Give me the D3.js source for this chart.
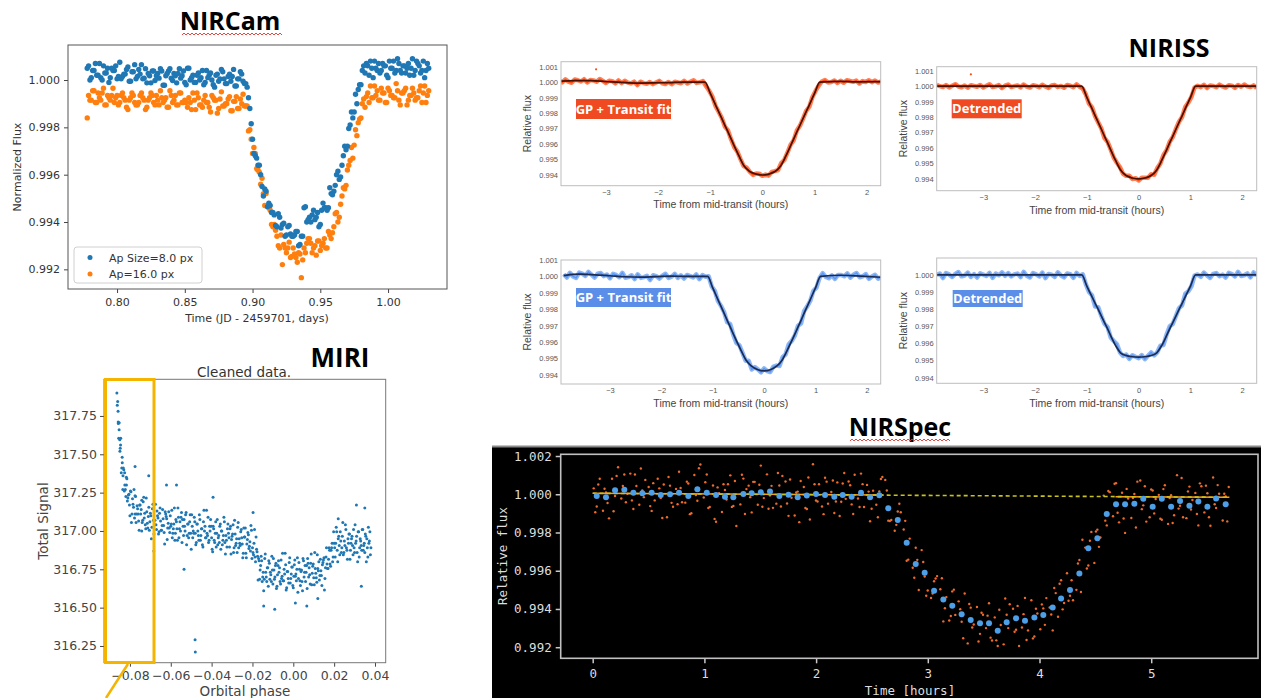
<!DOCTYPE html>
<html>
<head>
<meta charset="utf-8">
<script src="https://cdn.jsdelivr.net/npm/d3@7"></script>
<style>
  body { margin: 0; background: #fff; }
  svg { display: block; }
</style>
</head>
<body>
<svg id="chart" width="1261" height="698"></svg>
<script>
// ---------- NIRCam ----------
const nircamTitle = "NIRCam";
const nircamLegend = ["Ap Size=8.0 px", "Ap=16.0 px"];
const nircamXTicks = [0.80, 0.85, 0.90, 0.95, 1.00];
const nircamYTicks = [0.992, 0.994, 0.996, 0.998, 1.000];
const nircamTime = [
  0.778,0.780,0.782,0.784,0.786,0.788,0.790,0.792,0.794,0.796,
  0.798,0.800,0.802,0.804,0.806,0.808,0.810,0.812,0.814,0.816,
  0.818,0.820,0.822,0.824,0.826,0.828,0.830,0.832,0.834,0.836,
  0.838,0.840,0.842,0.844,0.846,0.848,0.850,0.852,0.854,0.856,
  0.858,0.860,0.862,0.864,0.866,0.868,0.870,0.872,0.874,0.876,
  0.878,0.880,0.882,0.884,0.886,0.888,0.890,0.892,0.894,0.896,
  0.898,0.900,0.902,0.904,0.906,0.908,0.910,0.912,0.914,0.916,
  0.918,0.920,0.922,0.924,0.926,0.928,0.930,0.932,0.934,0.936,
  0.938,0.940,0.942,0.944,0.946,0.948,0.950,0.952,0.954,0.956,
  0.958,0.960,0.962,0.964,0.966,0.968,0.970,0.972,0.974,0.976,
  0.978,0.980,0.982,0.984,0.986,0.988,0.990,0.992,0.994,0.996,
  0.998,1.000,1.002,1.004,1.006,1.008,1.010,1.012,1.014,1.016,
  1.018,1.020,1.022,1.024,1.026,1.028,1.030];
const nircamAp8 = [
  1.00050,1.00000,1.00040,1.00070,1.00020,1.00010,1.00060,1.00030,0.99990,1.00050,
  1.00040,1.00005,1.00075,1.00015,1.00025,1.00055,0.99995,1.00035,1.00005,1.00045,
  1.00065,1.00008,0.99988,1.00018,1.00038,0.99998,1.00028,1.00048,0.99978,1.00018,
  1.00038,1.00008,1.00028,0.99988,1.00048,1.00018,0.99990,1.00050,1.00000,1.00020,
  0.99990,1.00030,1.00010,0.99980,1.00040,1.00020,1.00000,0.99970,1.00025,1.00005,
  1.00035,0.99985,1.00015,0.99995,1.00045,0.99975,1.00005,1.00025,0.99985,0.99970,
  0.99880,0.99750,0.99680,0.99640,0.99600,0.99510,0.99530,0.99480,0.99440,0.99430,
  0.99380,0.99420,0.99390,0.99340,0.99380,0.99350,0.99340,0.99360,0.99300,0.99340,
  0.99460,0.99400,0.99420,0.99430,0.99410,0.99440,0.99390,0.99480,0.99460,0.99460,
  0.99520,0.99530,0.99600,0.99580,0.99640,0.99720,0.99720,0.99810,0.99840,0.99940,
  0.99960,0.99980,1.00060,1.00070,1.00020,1.00050,1.00080,1.00040,1.00030,1.00070,
  1.00060,1.00010,1.00050,1.00080,1.00040,1.00070,1.00030,1.00060,1.00050,1.00020,
  1.00090,1.00040,1.00070,1.00030,1.00080,1.00040,1.00050];
const nircamAp16 = [
  0.99840,0.99915,0.99955,0.99905,0.99945,0.99915,0.99965,0.99895,0.99925,0.99935,
  0.99905,0.99935,0.99905,0.99945,0.99915,0.99875,0.99925,0.99935,0.99895,0.99905,
  0.99945,0.99915,0.99885,0.99925,0.99935,0.99895,0.99915,0.99955,0.99905,0.99925,
  0.99885,0.99935,0.99915,0.99895,0.99945,0.99905,0.99915,0.99885,0.99905,0.99945,
  0.99875,0.99925,0.99895,0.99915,0.99905,0.99885,0.99935,0.99915,0.99860,0.99920,
  0.99890,0.99900,0.99920,0.99870,0.99910,0.99930,0.99880,0.99900,0.99890,0.99890,
  0.99790,0.99690,0.99690,0.99620,0.99560,0.99520,0.99520,0.99460,0.99390,0.99390,
  0.99340,0.99290,0.99220,0.99290,0.99290,0.99250,0.99290,0.99250,0.99270,0.99165,
  0.99290,0.99310,0.99330,0.99270,0.99300,0.99320,0.99280,0.99310,0.99290,0.99360,
  0.99330,0.99380,0.99440,0.99420,0.99510,0.99540,0.99620,0.99660,0.99670,0.99790,
  0.99820,0.99840,0.99920,0.99930,0.99905,0.99925,0.99975,0.99955,0.99915,0.99945,
  0.99905,0.99965,0.99935,0.99925,0.99985,0.99915,0.99945,0.99955,0.99895,0.99935,
  0.99965,0.99915,0.99925,0.99975,0.99945,0.99905,0.99955];
// interleaved exposures
const nircamTimeB = [
  0.779,0.781,0.783,0.785,0.787,0.789,0.791,0.793,0.795,0.797,
  0.799,0.801,0.803,0.805,0.807,0.809,0.811,0.813,0.815,0.817,
  0.819,0.821,0.823,0.825,0.827,0.829,0.831,0.833,0.835,0.837,
  0.839,0.841,0.843,0.845,0.847,0.849,0.851,0.853,0.855,0.857,
  0.859,0.861,0.863,0.865,0.867,0.869,0.871,0.873,0.875,0.877,
  0.879,0.881,0.883,0.885,0.887,0.889,0.891,0.893,0.895,0.897,
  0.899,0.901,0.903,0.905,0.907,0.909,0.911,0.913,0.915,0.917,
  0.919,0.921,0.923,0.925,0.927,0.929,0.931,0.933,0.935,0.937,
  0.939,0.941,0.943,0.945,0.947,0.949,0.951,0.953,0.955,0.957,
  0.959,0.961,0.963,0.965,0.967,0.969,0.971,0.973,0.975,0.977,
  0.979,0.981,0.983,0.985,0.987,0.989,0.991,0.993,0.995,0.997,
  0.999,1.001,1.003,1.005,1.007,1.009,1.011,1.013,1.015,1.017,
  1.019,1.021,1.023,1.025,1.027,1.029];
const nircamAp8B = [
  1.00060,1.00010,1.00040,1.00020,1.00070,1.00000,1.00030,1.00050,1.00010,1.00040,
  1.00060,1.00015,1.00005,1.00025,1.00045,0.99995,1.00035,1.00065,1.00015,1.00025,
  1.00005,1.00048,1.00028,0.99988,1.00038,1.00018,1.00008,1.00038,0.99978,1.00028,
  1.00048,0.99998,1.00018,1.00028,1.00008,1.00038,0.99980,1.00050,1.00010,0.99990,
  1.00020,1.00000,1.00040,0.99990,1.00010,1.00030,0.99980,1.00020,0.99995,1.00045,
  1.00005,0.99985,1.00025,1.00015,0.99975,1.00005,1.00035,0.99995,0.99985,0.99925,
  0.99815,0.99690,0.99670,0.99640,0.99550,0.99540,0.99465,0.99470,0.99440,0.99385,
  0.99435,0.99375,0.99395,0.99345,0.99385,0.99340,0.99345,0.99360,0.99305,0.99340,
  0.99465,0.99410,0.99400,0.99450,0.99420,0.99380,0.99450,0.99460,0.99450,0.99545,
  0.99515,0.99555,0.99615,0.99590,0.99680,0.99705,0.99795,0.99865,0.99865,0.99900,
  0.99980,1.00040,1.00030,1.00060,1.00080,1.00010,1.00050,1.00070,1.00040,1.00060,
  1.00020,1.00080,1.00050,1.00030,1.00090,1.00040,1.00060,1.00030,1.00070,1.00050,
  1.00020,1.00080,1.00060,1.00040,1.00010,1.00070];
const nircamAp16B = [
  0.99935,0.99915,0.99955,0.99905,0.99925,0.99945,0.99895,0.99935,0.99915,0.99965,
  0.99925,0.99895,0.99935,0.99925,0.99885,0.99915,0.99945,0.99905,0.99895,0.99935,
  0.99925,0.99875,0.99915,0.99945,0.99905,0.99935,0.99895,0.99925,0.99915,0.99885,
  0.99955,0.99905,0.99935,0.99895,0.99945,0.99905,0.99905,0.99925,0.99875,0.99915,
  0.99945,0.99895,0.99885,0.99935,0.99905,0.99865,0.99925,0.99915,0.99880,0.99950,
  0.99890,0.99900,0.99930,0.99870,0.99910,0.99880,0.99920,0.99940,0.99890,0.99785,
  0.99750,0.99715,0.99625,0.99610,0.99585,0.99470,0.99470,0.99450,0.99380,0.99365,
  0.99300,0.99345,0.99305,0.99270,0.99315,0.99255,0.99265,0.99230,0.99265,0.99240,
  0.99270,0.99330,0.99310,0.99290,0.99260,0.99320,0.99300,0.99330,0.99290,0.99345,
  0.99355,0.99435,0.99400,0.99475,0.99545,0.99555,0.99640,0.99715,0.99725,0.99765,
  0.99835,0.99900,0.99885,0.99945,0.99975,0.99925,0.99935,0.99915,0.99965,0.99945,
  0.99905,0.99955,0.99935,0.99925,0.99955,0.99895,0.99945,0.99965,0.99915,0.99935,
  0.99945,0.99925,0.99955,0.99905,0.99975,0.99935];

// ---------- MIRI ----------
const miriTitle = "Cleaned data.";
const miriXTicks = [-0.08, -0.06, -0.04, -0.02, 0.00, 0.02, 0.04];
const miriYTicks = [316.25, 316.50, 316.75, 317.00, 317.25, 317.50, 317.75];
const miriPhase = [
  -.0860,-.0855,-.0850,-.0845,-.0840,-.0835,-.0830,-.0825,-.0820,-.0815,
  -.0810,-.0805,-.0800,-.0795,-.0790,-.0785,-.0780,-.0775,-.0770,-.0765,
  -.0760,-.0755,-.0750,-.0745,-.0740,-.0735,-.0730,-.0725,-.0720,-.0715,
  -.0710,-.0705,-.0700,-.0695,-.0690,-.0685,-.0680,-.0675,-.0670,-.0665,
  -.0660,-.0655,-.0650,-.0645,-.0640,-.0635,-.0630,-.0625,-.0620,-.0615,
  -.0610,-.0605,-.0600,-.0595,-.0590,-.0585,-.0580,-.0575,-.0570,-.0565,
  -.0560,-.0555,-.0550,-.0545,-.0540,-.0535,-.0530,-.0525,-.0520,-.0515,
  -.0510,-.0505,-.0500,-.0495,-.0490,-.0485,-.0480,-.0475,-.0470,-.0465,
  -.0460,-.0455,-.0450,-.0445,-.0440,-.0435,-.0430,-.0425,-.0420,-.0415,
  -.0410,-.0405,-.0400,-.0395,-.0390,-.0385,-.0380,-.0375,-.0370,-.0365,
  -.0360,-.0355,-.0350,-.0345,-.0340,-.0335,-.0330,-.0325,-.0320,-.0315,
  -.0310,-.0305,-.0300,-.0295,-.0290,-.0285,-.0280,-.0275,-.0270,-.0265,
  -.0260,-.0255,-.0250,-.0245,-.0240,-.0235,-.0230,-.0225,-.0220,-.0215,
  -.0210,-.0205,-.0200,-.0195,-.0190,-.0185,-.0180,-.0175,-.0170,-.0165,
  -.0160,-.0155,-.0150,-.0145,-.0140,-.0135,-.0130,-.0125,-.0120,-.0115,
  -.0110,-.0105,-.0100,-.0095,-.0090,-.0085,-.0080,-.0075,-.0070,-.0065,
  -.0060,-.0055,-.0050,-.0045,-.0040,-.0035,-.0030,-.0025,-.0020,-.0015,
  -.0010,-.0005,.0000,.0005,.0010,.0015,.0020,.0025,.0030,.0035,
  .0040,.0045,.0050,.0055,.0060,.0065,.0070,.0075,.0080,.0085,
  .0090,.0095,.0100,.0105,.0110,.0115,.0120,.0125,.0130,.0135,
  .0140,.0145,.0150,.0155,.0160,.0165,.0170,.0175,.0180,.0185,
  .0190,.0195,.0200,.0205,.0210,.0215,.0220,.0225,.0230,.0235,
  .0240,.0245,.0250,.0255,.0260,.0265,.0270,.0275,.0280,.0285,
  .0290,.0295,.0300,.0305,.0310,.0315,.0320,.0325,.0330,.0335,
  .0340,.0345,.0350,.0355,.0360,.0365,.0370,.0375,.0380];
const miriSignal = [
  317.845,317.605,317.595,317.605,317.41,317.27,317.40,317.30,317.225,317.34,
  317.215,317.24,317.10,317.255,317.11,317.175,317.27,317.11,317.055,317.165,
  317.11,317.005,317.17,317.14,317.055,317.19,317.085,317.04,317.215,317.05,
  317.095,317.005,317.115,316.95,317.145,317.07,317.04,317.175,317.01,317.10,
  316.98,317.115,317.065,317.005,317.14,317.035,316.915,317.11,317.08,317.02,
  317.125,316.99,317.03,317.135,316.985,317.045,316.94,317.075,317.015,317.15,
  316.955,317.06,317.09,316.925,317.03,317.075,317.00,317.12,316.97,317.045,
  316.985,317.105,316.88,317.03,317.00,317.09,316.985,316.925,317.045,316.97,
  317.105,316.94,317.015,316.91,317.06,317.00,316.955,317.135,316.97,316.925,
  317.03,317.075,316.955,316.865,317.015,316.925,317.06,316.985,316.91,316.97,
  317.03,316.88,317.00,316.94,317.09,316.925,316.97,316.895,317.045,316.955,
  317.015,316.85,316.965,317.04,316.89,316.98,316.92,316.86,317.055,316.95,
  316.905,317.01,316.915,316.855,316.96,317.02,316.825,316.945,316.975,316.90,
  316.87,317.005,316.89,316.845,317.01,316.80,316.88,316.835,316.82,316.685,
  316.775,316.805,316.70,316.61,316.82,316.73,316.67,316.76,316.805,316.685,
  316.715,316.835,316.655,316.745,316.70,316.79,316.64,316.775,316.73,316.67,
  316.81,316.705,316.675,316.75,316.855,316.615,316.735,316.69,316.795,316.66,
  316.72,316.765,316.63,316.78,316.705,316.675,316.825,316.69,316.75,316.645,
  316.745,316.61,316.805,316.73,316.67,316.775,316.82,316.70,316.715,316.79,
  316.65,316.77,316.695,316.86,316.725,316.665,316.755,316.80,316.71,316.74,
  316.645,316.795,316.825,316.69,316.83,316.785,316.755,316.89,316.785,316.875,
  316.92,316.83,316.92,316.83,317.025,316.875,316.95,316.905,316.995,316.86,
  316.965,316.845,316.935,317.04,316.89,316.815,316.92,316.98,316.875,316.95,
  316.905,317.01,316.86,316.92,316.965,316.80,316.995,316.89,316.935,316.875,
  317.01,316.905,316.86,316.965,316.95,316.83,316.92,316.995,316.89];
// second half-cadence set
const miriPhaseB = [
  -.08575,-.08525,-.08475,-.08425,-.08375,-.08325,-.08275,-.08225,-.08175,-.08125,
  -.08075,-.08025,-.07975,-.07925,-.07875,-.07825,-.07775,-.07725,-.07675,-.07625,
  -.07575,-.07525,-.07475,-.07425,-.07375,-.07325,-.07275,-.07225,-.07175,-.07125,
  -.07075,-.07025,-.06975,-.06925,-.06875,-.06825,-.06775,-.06725,-.06675,-.06625,
  -.06575,-.06525,-.06475,-.06425,-.06375,-.06325,-.06275,-.06225,-.06175,-.06125,
  -.06075,-.06025,-.05975,-.05925,-.05875,-.05825,-.05775,-.05725,-.05675,-.05625,
  -.05575,-.05525,-.05475,-.05425,-.05375,-.05325,-.05275,-.05225,-.05175,-.05125,
  -.05075,-.05025,-.04975,-.04925,-.04875,-.04825,-.04775,-.04725,-.04675,-.04625,
  -.04575,-.04525,-.04475,-.04425,-.04375,-.04325,-.04275,-.04225,-.04175,-.04125,
  -.04075,-.04025,-.03975,-.03925,-.03875,-.03825,-.03775,-.03725,-.03675,-.03625,
  -.03575,-.03525,-.03475,-.03425,-.03375,-.03325,-.03275,-.03225,-.03175,-.03125,
  -.03075,-.03025,-.02975,-.02925,-.02875,-.02825,-.02775,-.02725,-.02675,-.02625,
  -.02575,-.02525,-.02475,-.02425,-.02375,-.02325,-.02275,-.02225,-.02175,-.02125,
  -.02075,-.02025,-.01975,-.01925,-.01875,-.01825,-.01775,-.01725,-.01675,-.01625,
  -.01575,-.01525,-.01475,-.01425,-.01375,-.01325,-.01275,-.01225,-.01175,-.01125,
  -.01075,-.01025,-.00975,-.00925,-.00875,-.00825,-.00775,-.00725,-.00675,-.00625,
  -.00575,-.00525,-.00475,-.00425,-.00375,-.00325,-.00275,-.00225,-.00175,-.00125,
  -.00075,-.00025,.00025,.00075,.00125,.00175,.00225,.00275,.00325,.00375,
  .00425,.00475,.00525,.00575,.00625,.00675,.00725,.00775,.00825,.00875,
  .00925,.00975,.01025,.01075,.01125,.01175,.01225,.01275,.01325,.01375,
  .01425,.01475,.01525,.01575,.01625,.01675,.01725,.01775,.01825,.01875,
  .01925,.01975,.02025,.02075,.02125,.02175,.02225,.02275,.02325,.02375,
  .02425,.02475,.02525,.02575,.02625,.02675,.02725,.02775,.02825,.02875,
  .02925,.02975,.03025,.03075,.03125,.03175,.03225,.03275,.03325,.03375,
  .03425,.03475,.03525,.03575,.03625,.03675,.03725,.03775];
const miriSignalB = [
  317.71,317.705,317.54,317.38,317.445,317.41,317.26,317.27,317.35,317.195,
  317.235,317.17,317.26,317.055,317.21,317.155,317.085,317.225,317.11,317.145,
  317.065,317.17,317.11,317.00,317.07,317.22,317.115,317.015,317.125,317.02,
  317.155,317.06,317.10,317.025,317.175,316.98,317.07,317.04,317.13,317.085,
  316.995,317.15,317.005,317.035,317.08,316.99,317.125,317.095,316.945,317.05,
  317.02,317.10,317.045,316.955,317.015,317.15,316.985,317.06,316.94,317.09,
  317.015,317.00,317.12,317.075,316.97,317.03,317.105,316.91,317.045,316.955,
  317.06,316.985,317.105,316.955,316.985,317.06,316.91,317.045,317.00,316.94,
  317.075,316.97,317.015,316.895,317.135,317.03,316.955,316.985,317.09,316.94,
  317.00,317.03,316.88,317.03,316.94,316.985,316.895,317.075,316.955,316.925,
  317.045,317.00,316.91,316.97,317.06,316.85,316.94,317.015,316.985,316.895,
  317.03,316.945,316.98,316.86,317.07,316.905,316.95,317.025,316.89,316.92,
  316.995,316.955,316.825,317.02,316.96,316.855,316.915,316.99,316.885,316.93,
  317.035,316.82,316.86,316.92,316.83,316.96,316.865,316.68,316.805,316.745,
  316.835,316.67,316.73,316.685,316.85,316.70,316.76,316.64,316.79,316.73,
  316.67,316.745,316.82,316.685,316.775,316.625,316.715,316.805,316.76,316.655,
  316.69,316.855,316.675,316.72,316.78,316.63,316.735,316.66,316.825,316.69,
  316.765,316.645,316.705,316.81,316.72,316.75,316.60,316.795,316.675,316.735,
  316.67,316.82,316.70,316.775,316.73,316.625,316.79,316.76,316.655,316.85,
  316.725,316.785,316.65,316.755,316.695,316.845,316.74,316.68,316.815,316.71,
  316.78,316.81,316.615,316.76,316.89,316.755,316.815,316.875,316.77,316.89,
  316.80,316.995,316.89,316.92,316.995,316.80,316.965,316.845,316.935,316.89,
  317.055,316.86,316.905,317.01,316.875,316.95,316.98,316.815,316.92,316.965,
  316.845,316.89,317.04,316.935,316.86,316.995,316.83,316.95,316.905,317.01,
  316.875,316.92,316.98,316.80,316.89,317.025,316.935,316.845];
// early ramp and scattered outliers
const miriExtra = [
  [-0.0864,317.90],[-0.0862,317.82],[-0.0858,317.78],[-0.0857,317.70],[-0.0853,317.66],
  [-0.0849,317.52],[-0.0846,317.56],[-0.0838,317.48],[-0.0834,317.36],[-0.0826,317.38],
  [-0.0817,317.30],[-0.0775,317.42],[-0.0775,317.23],[-0.0742,317.20],[-0.0708,317.36],
  [-0.0683,316.87],[-0.0621,317.30],[-0.0572,317.30],[-0.0535,316.75],[-0.0481,316.29],
  [-0.0480,316.21],[-0.0393,317.22],[-0.0197,317.12],[-0.0145,316.51],[-0.0091,316.49],
  [0.0010,316.53],[0.0066,316.51],[0.0120,316.56],[0.0220,317.08],[0.0309,317.17],
  [0.0333,316.64],[0.0350,317.15]];

// ---------- NIRISS ----------
const nirissXTicks = [-3, -2, -1, 0, 1, 2];
const nirissYTicks = [0.994, 0.995, 0.996, 0.997, 0.998, 0.999, 1.000, 1.001];
const nirissYTicksBR = [0.994, 0.995, 0.996, 0.997, 0.998, 0.999, 1.000];
const nirissTime = [
  -3.90,-3.84,-3.78,-3.72,-3.66,-3.60,-3.54,-3.48,-3.42,-3.36,
  -3.30,-3.24,-3.18,-3.12,-3.06,-3.00,-2.94,-2.88,-2.82,-2.76,
  -2.70,-2.64,-2.58,-2.52,-2.46,-2.40,-2.34,-2.28,-2.22,-2.16,
  -2.10,-2.04,-1.98,-1.92,-1.86,-1.80,-1.74,-1.68,-1.62,-1.56,
  -1.50,-1.44,-1.38,-1.32,-1.26,-1.20,-1.14,-1.08,-1.02,-0.96,
  -0.90,-0.84,-0.78,-0.72,-0.66,-0.60,-0.54,-0.48,-0.42,-0.36,
  -0.30,-0.24,-0.18,-0.12,-0.06,0.00,0.06,0.12,0.18,0.24,
  0.30,0.36,0.42,0.48,0.54,0.60,0.66,0.72,0.78,0.84,
  0.90,0.96,1.02,1.08,1.14,1.20,1.26,1.32,1.38,1.44,
  1.50,1.56,1.62,1.68,1.74,1.80,1.86,1.92,1.98,2.04,
  2.10,2.16,2.22,2.28];
const nirissRedGP = [
  1.00011,0.99998,1.00018,1.00003,0.99996,1.00017,1.00012,1.00004,1.00019,0.99998,
  1.00014,1.00011,1.00003,1.00020,1.00008,0.99994,1.00009,1.00006,0.99992,1.00011,
  0.99994,1.00009,0.99997,0.99992,1.00003,0.99981,1.00003,0.99994,0.99989,1.00001,
  0.99987,0.99998,1.00008,0.99993,0.99988,1.00001,0.99987,1.00003,0.99998,0.99993,
  1.00008,0.99991,1.00002,1.00012,0.99995,0.99999,1.00007,0.99973,0.99944,0.99907,
  0.99847,0.99809,0.99770,0.99713,0.99688,0.99630,0.99580,0.99551,0.99503,0.99458,
  0.99447,0.99420,0.99401,0.99410,0.99409,0.99395,0.99403,0.99396,0.99420,0.99425,
  0.99432,0.99477,0.99497,0.99544,0.99595,0.99624,0.99687,0.99718,0.99765,0.99814,
  0.99841,0.99904,0.99943,0.99977,1.00004,1.00013,0.99997,1.00000,1.00011,0.99995,
  1.00009,0.99996,1.00012,1.00007,1.00002,1.00010,0.99991,1.00007,1.00001,1.00012,
  1.00000,1.00010,0.99997,1.00005];
const nirissRedDetr = [
  1.00009,1.00000,0.99995,1.00007,0.99992,1.00003,1.00013,0.99998,0.99993,1.00004,
  0.99990,1.00006,1.00001,0.99996,1.00008,0.99991,1.00002,1.00012,0.99995,0.99999,
  1.00007,0.99988,1.00003,1.00010,0.99994,1.00000,1.00005,0.99992,1.00011,0.99997,
  0.99991,1.00006,1.00002,0.99993,1.00009,0.99998,0.99989,1.00004,1.00007,0.99995,
  1.00001,0.99990,1.00008,1.00003,0.99994,1.00012,0.99996,0.99984,0.99947,0.99888,
  0.99863,0.99806,0.99765,0.99726,0.99665,0.99640,0.99591,0.99537,0.99505,0.99476,
  0.99433,0.99420,0.99421,0.99399,0.99405,0.99390,0.99408,0.99407,0.99408,0.99430,
  0.99427,0.99470,0.99500,0.99555,0.99586,0.99640,0.99671,0.99723,0.99770,0.99801,
  0.99865,0.99894,0.99931,0.99992,1.00002,0.99994,1.00009,0.99988,1.00004,1.00001,
  0.99993,1.00010,0.99998,0.99991,1.00006,1.00003,0.99989,1.00008,0.99996,1.00011,
  0.99999,0.99994,1.00005,0.99987];
const nirissBlueGP = [
  1.00013,0.99993,1.00022,1.00000,0.99991,1.00023,1.00017,1.00003,1.00028,1.00011,
  0.99993,1.00016,1.00021,1.00002,1.00012,0.99989,1.00016,1.00009,0.99995,1.00022,
  0.99992,0.99996,1.00007,0.99984,1.00013,0.99991,0.99996,1.00004,0.99978,1.00007,
  1.00002,0.99987,1.00005,1.00016,0.99991,0.99999,1.00016,0.99991,1.00007,0.99987,
  1.00009,1.00002,0.99994,1.00012,0.99983,1.00008,0.99998,1.00001,0.99939,0.99913,
  0.99851,0.99821,0.99784,0.99722,0.99710,0.99645,0.99595,0.99581,0.99535,0.99487,
  0.99486,0.99434,0.99448,0.99434,0.99416,0.99440,0.99424,0.99418,0.99451,0.99457,
  0.99455,0.99508,0.99526,0.99587,0.99608,0.99641,0.99700,0.99714,0.99790,0.99818,
  0.99852,0.99913,0.99932,0.99991,1.00020,0.99997,0.99989,1.00006,0.99985,1.00009,
  1.00009,1.00001,1.00019,0.99993,1.00010,1.00021,0.99995,1.00001,1.00014,0.99985,
  1.00000,1.00010,0.99986,0.99995];
const nirissBlueDetr = [
  1.00000,1.00008,0.99982,1.00011,1.00003,0.99988,1.00006,1.00017,0.99992,0.99997,
  1.00014,0.99989,1.00005,0.99985,1.00009,1.00002,0.99994,1.00012,0.99983,1.00008,
  0.99998,1.00015,0.99995,1.00011,0.99991,1.00003,1.00008,0.99988,1.00018,0.99995,
  0.99985,1.00011,1.00003,0.99991,1.00014,0.99982,1.00006,1.00002,0.99989,1.00015,
  0.99997,0.99986,1.00009,1.00005,0.99983,1.00012,0.99994,1.00004,0.99946,0.99901,
  0.99881,0.99815,0.99812,0.99760,0.99715,0.99696,0.99635,0.99614,0.99596,0.99547,
  0.99527,0.99535,0.99510,0.99531,0.99522,0.99514,0.99532,0.99508,0.99528,0.99547,
  0.99530,0.99548,0.99587,0.99591,0.99652,0.99700,0.99714,0.99760,0.99806,0.99823,
  0.99890,0.99905,0.99934,0.99996,1.00003,0.99989,1.00014,0.99997,0.99983,1.00006,
  1.00011,0.99992,1.00002,0.99985,1.00012,1.00005,0.99991,1.00018,0.99994,0.99998,
  1.00009,0.99986,1.00015,0.99995];
// fitted models (dark lines)
const nirissRedGPModel = [
  [-3.90,1.00006],[-3.60,1.00010],[-3.30,1.00010],[-3.00,1.00004],[-2.70,0.99998],
  [-2.40,0.99994],[-2.10,0.99995],[-1.80,0.99997],[-1.50,1.00000],[-1.10,1.00000],
  [-1.00,0.99927],[-0.80,0.99780],[-0.60,0.99633],[-0.45,0.99523],[-0.35,0.99458],
  [-0.25,0.99424],[-0.12,0.99406],[0.00,0.99400],[0.12,0.99406],[0.25,0.99424],
  [0.35,0.99458],[0.45,0.99523],[0.60,0.99633],[0.80,0.99780],[1.00,0.99927],
  [1.10,1.00000],[1.50,1.00005],[1.80,1.00002],[2.28,1.00003]];
const nirissRedDetrModel = [
  [-3.90,1.00000],[-1.10,1.00000],[-1.00,0.99927],[-0.80,0.99780],[-0.60,0.99633],
  [-0.45,0.99523],[-0.35,0.99458],[-0.25,0.99424],[-0.12,0.99406],[0.00,0.99400],
  [0.12,0.99406],[0.25,0.99424],[0.35,0.99458],[0.45,0.99523],[0.60,0.99633],
  [0.80,0.99780],[1.00,0.99927],[1.10,1.00000],[2.28,1.00000]];
const nirissBlueGPModel = [
  [-3.90,1.00005],[-3.60,1.00014],[-3.30,1.00010],[-3.00,1.00004],[-2.70,0.99998],
  [-2.40,0.99996],[-2.10,0.99999],[-1.80,1.00002],[-1.50,1.00000],[-1.10,1.00000],
  [-1.00,0.99930],[-0.80,0.99790],[-0.60,0.99650],[-0.45,0.99550],[-0.35,0.99490],
  [-0.25,0.99455],[-0.12,0.99432],[0.00,0.99425],[0.12,0.99432],[0.25,0.99455],
  [0.35,0.99490],[0.45,0.99550],[0.60,0.99650],[0.80,0.99790],[1.00,0.99930],
  [1.10,1.00000],[1.50,1.00007],[1.80,1.00003],[2.28,0.99995]];
const nirissBlueDetrModel = [
  [-3.90,1.00000],[-1.10,1.00000],[-1.00,0.99935],[-0.80,0.99810],[-0.60,0.99685],
  [-0.45,0.99590],[-0.35,0.99545],[-0.25,0.99530],[-0.12,0.99522],[0.00,0.99520],
  [0.12,0.99522],[0.25,0.99530],[0.35,0.99545],[0.45,0.99590],[0.60,0.99685],
  [0.80,0.99810],[1.00,0.99935],[1.10,1.00000],[2.28,1.00000]];
const nirissSpikes = [[-3.19, 1.00083], [-3.24, 1.00077]];

// ---------- NIRSpec ----------
const nirspecXTicks = [0, 1, 2, 3, 4, 5];
const nirspecYTicks = [0.992, 0.994, 0.996, 0.998, 1.000, 1.002];
const nirspecBinTime = [
  0.036,0.119,0.200,0.283,0.364,0.444,0.528,0.609,0.692,0.773,
  0.856,0.937,1.021,1.104,1.184,1.259,1.349,1.423,1.505,1.587,
  1.671,1.753,1.835,1.917,1.999,2.080,2.163,2.238,2.318,2.402,
  2.483,2.566,2.646,2.731,2.811,2.892,2.972,3.056,3.139,3.219,
  3.303,3.384,3.467,3.548,3.626,3.706,3.790,3.870,3.954,4.034,
  4.118,4.193,4.273,4.357,4.437,4.518,4.602,4.685,4.766,4.849,
  4.929,5.013,5.095,5.178,5.258,5.342,5.422,5.503,5.581,5.667];
const nirspecBinFlux = [
  0.99991,0.99984,1.00021,1.00023,1.00008,1.00005,1.00008,0.99996,1.00000,1.00008,
  0.99991,1.00026,1.00008,0.99996,0.99987,0.99984,1.00002,1.00005,1.00010,1.00014,
  0.99991,0.99997,0.99984,0.99993,1.00002,0.99996,0.99987,0.99996,0.99987,1.00008,
  0.99984,0.99995,0.99927,0.99865,0.99747,0.99635,0.99590,0.99495,0.99450,0.99417,
  0.99373,0.99342,0.99325,0.99325,0.99286,0.99330,0.99351,0.99338,0.99356,0.99368,
  0.99408,0.99455,0.99499,0.99586,0.99717,0.99770,0.99897,0.99948,0.99948,0.99951,
  0.99977,0.99935,0.99977,0.99935,0.99965,0.99940,0.99962,0.99935,0.99978,0.99948];
const nirspecRaw = [
  [0.009,1.00031],[0.036,0.99936],[0.063,1.00081],[0.092,0.99914],[0.119,1.00009],[0.146,0.99874],
  [0.173,1.00081],[0.200,0.99991],[0.227,1.00141],[0.256,0.99978],[0.283,1.00103],[0.310,1.00003],
  [0.337,1.00108],[0.364,0.99923],[0.391,1.00043],[0.417,0.99945],[0.444,1.00020],[0.471,1.00075],
  [0.501,1.00038],[0.528,0.99913],[0.555,0.99968],[0.582,1.00081],[0.609,0.99981],[0.636,1.00051],
  [0.665,0.99880],[0.692,1.00045],[0.719,0.99935],[0.746,1.00028],[0.773,1.00118],[0.800,0.99958],
  [0.829,0.99956],[0.856,1.00056],[0.883,0.99901],[0.910,1.00101],[0.937,0.99966],[0.964,1.00156],
  [0.994,0.99983],[1.021,1.00103],[1.048,0.99933],[1.077,1.00046],[1.104,0.99856],[1.131,1.00006],
  [1.157,0.99907],[1.184,1.00022],[1.211,1.00052],[1.232,1.00099],[1.259,0.99939],[1.286,0.99834],
  [1.322,0.99947],[1.349,1.00082],[1.376,1.00027],[1.396,1.00045],[1.423,0.99905],[1.450,1.00065],
  [1.478,0.99945],[1.505,1.00150],[1.532,0.99980],[1.560,1.00104],[1.587,0.99994],[1.614,0.99929],
  [1.644,0.99951],[1.671,1.00046],[1.698,1.00096],[1.726,1.00067],[1.753,0.99887],[1.780,0.99982],
  [1.808,0.99889],[1.835,1.00014],[1.862,1.00069],[1.890,1.00038],[1.917,0.99923],[1.944,0.99868],
  [1.972,1.00157],[1.999,0.99967],[2.026,1.00052],[2.053,0.99936],[2.080,1.00086],[2.107,0.99951],
  [2.136,1.00012],[2.163,0.99902],[2.190,1.00062],[2.211,0.99886],[2.238,1.00056],[2.265,0.99976],
  [2.291,1.00067],[2.318,0.99947],[2.345,1.00102],[2.375,0.99978],[2.402,1.00108],[2.429,0.99933],
  [2.456,1.00049],[2.483,0.99859],[2.510,1.00019],[2.539,0.99945],[2.566,1.00015],[2.593,1.00090],
  [2.619,1.00075],[2.646,0.99862],[2.673,0.99865],[2.704,0.99809],[2.731,0.99910],[2.758,0.99906],
  [2.784,0.99816],[2.811,0.99652],[2.838,0.99768],[2.865,0.99616],[2.892,0.99720],[2.919,0.99499],
  [2.945,0.99708],[2.972,0.99570],[2.999,0.99497],[3.029,0.99458],[3.056,0.99545],[3.083,0.99572],
  [3.112,0.99503],[3.139,0.99335],[3.166,0.99462],[3.192,0.99340],[3.219,0.99492],[3.246,0.99369],
  [3.276,0.99440],[3.303,0.99333],[3.330,0.99481],[3.357,0.99220],[3.384,0.99407],[3.411,0.99319],
  [3.440,0.99410],[3.467,0.99270],[3.494,0.99370],[3.521,0.99300],[3.548,0.99430],[3.575,0.99235],
  [3.599,0.99356],[3.626,0.99206],[3.653,0.99316],[3.679,0.99215],[3.706,0.99370],[3.733,0.99425],
  [3.763,0.99401],[3.790,0.99291],[3.817,0.99206],[3.843,0.99303],[3.870,0.99458],[3.897,0.99288],
  [3.927,0.99446],[3.954,0.99256],[3.981,0.99376],[4.007,0.99294],[4.034,0.99403],[4.061,0.99457],
  [4.091,0.99408],[4.118,0.99288],[4.145,0.99483],[4.166,0.99359],[4.193,0.99550],[4.220,0.99431],
  [4.246,0.99587],[4.273,0.99469],[4.300,0.99446],[4.330,0.99500],[4.357,0.99656],[4.384,0.99762],
  [4.410,0.99721],[4.437,0.99627],[4.464,0.99803],[4.491,0.99641],[4.518,0.99815],[4.545,0.99774],
  [4.575,0.99993],[4.602,0.99837],[4.629,1.00011],[4.658,0.99885],[4.685,1.00058],[4.712,0.99853],
  [4.739,1.00008],[4.766,0.99798],[4.793,0.99978],[4.822,0.99876],[4.849,1.00001],[4.876,1.00066],
  [4.902,1.00072],[4.929,0.99942],[4.956,0.99857],[4.986,0.99880],[5.013,1.00020],[5.040,0.99975],
  [5.068,0.99997],[5.095,0.99867],[5.122,1.00047],[5.151,0.99845],[5.178,0.99995],[5.205,0.99890],
  [5.231,1.00100],[5.258,0.99940],[5.285,0.99880],[5.315,0.99875],[5.342,1.00040],[5.369,0.99970],
  [5.395,1.00007],[5.422,0.99837],[5.449,1.00042],[5.476,0.99905],[5.503,1.00005],[5.530,0.99835],
  [5.554,1.00088],[5.581,0.99928],[5.608,1.00003],[5.640,0.99863],[5.667,0.99988],[5.694,1.00038]];
const nirspecRawB = [
  [0.023,0.99906],[0.050,1.00051],[0.106,1.00029],[0.133,0.99954],[0.187,0.99911],[0.214,1.00096],
  [0.270,1.00043],[0.297,0.99958],[0.351,0.99968],[0.378,1.00103],[0.431,1.00135],[0.458,0.99985],
  [0.515,0.99938],[0.542,1.00058],[0.596,1.00031],[0.623,0.99876],[0.679,1.00090],[0.706,0.99955],
  [0.760,0.99948],[0.787,1.00033],[0.843,1.00066],[0.870,0.99896],[0.924,0.99996],[0.951,1.00136],
  [1.008,1.00063],[1.035,0.99928],[1.091,0.99871],[1.118,1.00036],[1.171,1.00052],[1.198,0.99972],
  [1.246,0.99934],[1.273,1.00069],[1.336,1.00102],[1.363,0.99897],[1.410,0.99985],[1.437,1.00065],
  [1.492,1.00050],[1.519,0.99935],[1.574,0.99924],[1.601,1.00044],[1.658,1.00111],[1.685,0.99936],
  [1.740,0.99952],[1.767,1.00077],[1.822,1.00009],[1.849,0.99854],[1.904,0.99928],[1.931,1.00088],
  [1.986,1.00052],[2.013,0.99962],[2.067,0.99896],[2.094,1.00066],[2.150,1.00072],[2.177,0.99962],
  [2.225,0.99961],[2.252,1.00111],[2.305,1.00047],[2.332,0.99897],[2.389,0.99933],[2.416,1.00053],
  [2.470,1.00014],[2.497,0.99924],[2.553,0.99880],[2.580,1.00080],[2.633,1.00020],[2.660,0.99860],
  [2.718,0.99840],[2.745,0.99950],[2.798,0.99861],[2.825,0.99658],[2.879,0.99563],[2.906,0.99657],
  [2.959,0.99646],[2.986,0.99469],[3.043,0.99481],[3.070,0.99559],[3.126,0.99561],[3.153,0.99404],
  [3.206,0.99363],[3.233,0.99501],[3.290,0.99399],[3.317,0.99247],[3.371,0.99426],[3.398,0.99303],
  [3.454,0.99230],[3.481,0.99380],[3.535,0.99365],[3.562,0.99250],[3.613,0.99236],[3.640,0.99396],
  [3.693,0.99455],[3.720,0.99300],[3.777,0.99281],[3.804,0.99416],[3.857,0.99373],[3.884,0.99238],
  [3.941,0.99246],[3.968,0.99401],[4.021,0.99424],[4.048,0.99317],[4.105,0.99371],[4.132,0.99510],
  [4.180,0.99532],[4.207,0.99398],[4.260,0.99443],[4.287,0.99550],[4.344,0.99638],[4.371,0.99489],
  [4.424,0.99612],[4.451,0.99757],[4.505,0.99805],[4.532,0.99725],[4.589,0.99862],[4.616,1.00017],
  [4.672,1.00055],[4.699,0.99903],[4.753,0.99873],[4.780,1.00028],[4.836,0.99981],[4.863,0.99826],
  [4.916,0.99922],[4.943,1.00042],[5.000,1.00025],[5.027,0.99900],[5.082,0.99872],[5.109,1.00027],
  [5.165,0.99980],[5.192,0.99850],[5.245,0.99925],[5.272,1.00085],[5.329,1.00015],[5.356,0.99920],
  [5.409,0.99897],[5.436,1.00057],[5.490,1.00045],[5.517,0.99880],[5.568,0.99948],[5.595,1.00048],
  [5.654,1.00003],[5.681,0.99858]];
const nirspecBaseline = [[0.0, 1.00005], [5.70, 0.99984]];
const nirspecFitBefore = [[0.0, 1.00005], [2.60, 0.99996]];
const nirspecFitAfter = [[4.68, 0.99987], [5.70, 0.99984]];

// ======================================================
const svg = d3.select("#chart");
svg.append("rect").attr("width", 1261).attr("height", 698).attr("fill", "#fff");

function frameAxes(g, x, y, o) {
  const ax = g.append("g")
    .attr("transform", `translate(0,${y.range()[0]})`)
    .call(d3.axisBottom(x).tickValues(o.xTicks).tickFormat(o.xFmt)
      .tickSize(o.tick).tickPadding(o.padX));
  const ay = g.append("g")
    .attr("transform", `translate(${x.range()[0]},0)`)
    .call(d3.axisLeft(y).tickValues(o.yTicks).tickFormat(o.yFmt)
      .tickSize(o.tick).tickPadding(o.padY));
  [ax, ay].forEach(a => {
    a.select(".domain").remove();
    a.selectAll("line").attr("stroke", o.tickColor).attr("stroke-width", o.tickW || 1);
    a.selectAll("text").attr("fill", o.color)
      .style("font-family", o.font).style("font-size", o.size + "px");
  });
  g.append("rect")
    .attr("x", x.range()[0]).attr("y", y.range()[1])
    .attr("width", x.range()[1] - x.range()[0])
    .attr("height", y.range()[0] - y.range()[1])
    .attr("fill", "none").attr("stroke", o.spine).attr("stroke-width", o.spineW);
}

function addText(g, txt, x, y, o) {
  const t = g.append("text").attr("x", x).attr("y", y).text(txt)
    .attr("text-anchor", o.anchor || "middle").attr("fill", o.color || "#222")
    .style("font-family", o.font).style("font-size", o.size + "px")
    .style("font-weight", o.weight || "normal");
  if (o.rotate) t.attr("transform", `rotate(-90,${x},${y})`);
  return t;
}

function title(txt, x, y, size) {
  addText(svg, txt, x, y, { font: "'Open Sans', sans-serif", size: size, weight: 700, color: "#000" });
}

// red spell-check underline
function squiggle(x0, x1, y) {
  const pts = d3.range(x0, x1, 2).map((x, i) => [x, y + (i % 2 ? -1 : 1)]);
  svg.append("path").attr("d", d3.line()(pts))
    .attr("fill", "none").attr("stroke", "#e3342c").attr("stroke-width", 0.9);
}

function clip(id, x, y) {
  svg.append("clipPath").attr("id", id).append("rect")
    .attr("x", x.range()[0]).attr("y", y.range()[1])
    .attr("width", x.range()[1] - x.range()[0]).attr("height", y.range()[0] - y.range()[1]);
  return `url(#${id})`;
}

const dejavu = "'DejaVu Sans', sans-serif";
const arial = "'Liberation Sans', Arial, sans-serif";
const mono = "'DejaVu Sans Mono', monospace";

// ---------- NIRCam panel ----------
{
  const x = d3.scaleLinear().domain([0.7638, 1.0435]).range([68, 447]);
  const y = d3.scaleLinear().domain([0.99117, 1.00148]).range([289, 45]);
  const g = svg.append("g");
  const pts = g.append("g").attr("clip-path", clip("clip-nircam", x, y));
  const ap16 = d3.zip(nircamTime, nircamAp16).concat(d3.zip(nircamTimeB, nircamAp16B));
  const ap8 = d3.zip(nircamTime, nircamAp8).concat(d3.zip(nircamTimeB, nircamAp8B));
  pts.selectAll(".o").data(ap16).join("circle")
    .attr("cx", d => x(d[0])).attr("cy", d => y(d[1])).attr("r", 2.7).attr("fill", "#ff7f0e");
  pts.selectAll(".b").data(ap8).join("circle")
    .attr("cx", d => x(d[0])).attr("cy", d => y(d[1])).attr("r", 2.7).attr("fill", "#1f77b4");
  frameAxes(g, x, y, {
    xTicks: nircamXTicks, yTicks: nircamYTicks, xFmt: d3.format(".2f"), yFmt: d3.format(".3f"),
    tick: 4, padX: 5, padY: 4, tickColor: "#444", color: "#333", font: dejavu, size: 11,
    spine: "#555", spineW: 1
  });
  addText(g, "Time (JD - 2459701, days)", 257, 322, { font: dejavu, size: 11, color: "#333" });
  addText(g, "Normalized Flux", 21, 167, { font: dejavu, size: 11, color: "#333", rotate: true });

  const lg = g.append("g");
  lg.append("rect").attr("x", 74).attr("y", 247).attr("width", 128).attr("height", 36)
    .attr("rx", 3).attr("fill", "#fff").attr("fill-opacity", 0.85).attr("stroke", "#d0d0d0");
  const colors = ["#1f77b4", "#ff7f0e"];
  nircamLegend.forEach((name, i) => {
    lg.append("circle").attr("cx", 90).attr("cy", 257.5 + i * 16.5).attr("r", 2.5).attr("fill", colors[i]);
    addText(lg, name, 109, 261.5 + i * 16.5, { font: dejavu, size: 11, color: "#333", anchor: "start" });
  });
  title(nircamTitle, 230, 30, 25);
  squiggle(182, 284, 34);
}

// ---------- MIRI panel ----------
{
  const x = d3.scaleLinear().domain([-0.0927, 0.04524]).range([104, 385.7]);
  const y = d3.scaleLinear().domain([316.141, 317.989]).range([662.7, 379.3]);
  const g = svg.append("g");
  const pts = g.append("g").attr("clip-path", clip("clip-miri", x, y));
  const all = d3.zip(miriPhase, miriSignal).concat(d3.zip(miriPhaseB, miriSignalB), miriExtra);
  pts.selectAll(".m").data(all).join("circle")
    .attr("cx", d => x(d[0])).attr("cy", d => y(d[1])).attr("r", 1.5).attr("fill", "#1f77b4");
  frameAxes(g, x, y, {
    xTicks: miriXTicks, yTicks: miriYTicks, xFmt: d3.format(".2f"), yFmt: d3.format(".2f"),
    tick: 4, padX: 4, padY: 3, tickColor: "#444", color: "#444", font: dejavu, size: 12.5,
    spine: "#777", spineW: 1
  });
  addText(g, miriTitle, 244, 377, { font: dejavu, size: 13.5, color: "#333" });
  addText(g, "Orbital phase", 245, 696, { font: dejavu, size: 13.5, color: "#444" });
  addText(g, "Total Signal", 48, 521, { font: dejavu, size: 13.5, color: "#444", rotate: true });

  // highlighted ramp
  g.append("rect").attr("x", 105.5).attr("y", 379.5).attr("width", 48.5).attr("height", 283)
    .attr("fill", "none").attr("stroke", "#f4b400").attr("stroke-width", 3);
  g.append("line").attr("x1", 128).attr("y1", 664).attr("x2", 106).attr("y2", 698)
    .attr("stroke", "#f4b400").attr("stroke-width", 2.5);
  title("MIRI", 340, 367, 26);
}

// ---------- NIRISS panels ----------
const nirissPanels = [
  { id: "tl", xr: [561, 880.7], xd: [-3.863, 2.269], yr: [185.7, 61.7], yd: [0.99331, 1.00132],
    flux: nirissRedGP, model: nirissRedGPModel, spike: nirissSpikes[0], yTicks: nirissYTicks,
    light: "#ff4a10", dark: "#4a1000", box: "#ef4a22", label: "GP + Transit fit",
    bx: [576, 99, 95, 20], xlabY: 208, ylabX: 531 },
  { id: "tr", xr: [936.7, 1256.7], xd: [-3.9, 2.28], yr: [190.7, 66.7], yd: [0.99324, 1.00126],
    flux: nirissRedDetr, model: nirissRedDetrModel, spike: nirissSpikes[1], yTicks: nirissYTicks,
    light: "#ff4a10", dark: "#4a1000", box: "#ef4a22", label: "Detrended",
    bx: [951.7, 99.3, 70, 19], xlabY: 213.5, ylabX: 907 },
  { id: "bl", xr: [561, 880.7], xd: [-3.954, 2.27], yr: [384, 260], yd: [0.99345, 1.001],
    flux: nirissBlueGP, model: nirissBlueGPModel, spike: null, yTicks: nirissYTicks,
    light: "#5c98f2", dark: "#1b2b52", box: "#5b8ee8", label: "GP + Transit fit",
    bx: [576, 288, 95, 19], xlabY: 407, ylabX: 531 },
  { id: "br", xr: [936.7, 1256.7], xd: [-3.9, 2.28], yr: [383.3, 258], yd: [0.99367, 1.00099],
    flux: nirissBlueDetr, model: nirissBlueDetrModel, spike: null, yTicks: nirissYTicksBR,
    light: "#5c98f2", dark: "#1b2b52", box: "#5b8ee8", label: "Detrended",
    bx: [952.7, 290, 70, 17], xlabY: 407, ylabX: 907 }
];

nirissPanels.forEach(p => {
  const x = d3.scaleLinear().domain(p.xd).range(p.xr);
  const y = d3.scaleLinear().domain(p.yd).range(p.yr);
  const g = svg.append("g");
  const line = d3.line().x(d => x(d[0])).y(d => y(d[1]));
  const pl = g.append("g").attr("clip-path", clip("clip-" + p.id, x, y));
  const data = d3.zip(nirissTime, p.flux);
  pl.append("path").attr("d", line(data)).attr("fill", "none")
    .attr("stroke", p.light).attr("stroke-width", 4.5).attr("stroke-opacity", 0.7)
    .attr("stroke-linejoin", "round");
  pl.append("path").attr("d", line(data)).attr("fill", "none")
    .attr("stroke", p.light).attr("stroke-width", 1.4);
  if (p.spike) pl.append("circle").attr("cx", x(p.spike[0])).attr("cy", y(p.spike[1]))
    .attr("r", 1.1).attr("fill", p.light);
  pl.append("path").attr("d", line.curve(d3.curveMonotoneX)(p.model)).attr("fill", "none")
    .attr("stroke", p.dark).attr("stroke-width", 1.7);
  frameAxes(g, x, y, {
    xTicks: nirissXTicks, yTicks: p.yTicks, xFmt: d3.format("d"), yFmt: d3.format(".3f"),
    tick: 0, padX: 4, padY: 3, tickColor: "none", color: "#555", font: arial, size: 7.5,
    spine: "#bdbdbd", spineW: 1
  });
  addText(g, "Time from mid-transit (hours)", (p.xr[0] + p.xr[1]) / 2, p.xlabY,
    { font: arial, size: 10.5, color: "#444" });
  addText(g, "Relative flux", p.ylabX, (p.yr[0] + p.yr[1]) / 2,
    { font: arial, size: 10.5, color: "#444", rotate: true });
  g.append("rect").attr("x", p.bx[0]).attr("y", p.bx[1]).attr("width", p.bx[2]).attr("height", p.bx[3])
    .attr("fill", p.box);
  addText(g, p.label, p.bx[0] + p.bx[2] / 2, p.bx[1] + p.bx[3] / 2 + 4.6,
    { font: "'Open Sans', sans-serif", size: 13, weight: 700, color: "#fff" });
});
title("NIRISS", 1169, 57, 25);

// ---------- NIRSpec panel ----------
{
  svg.append("rect").attr("x", 492).attr("y", 446).attr("width", 769).attr("height", 252).attr("fill", "#000");
  svg.append("line").attr("x1", 492).attr("x2", 1261).attr("y1", 446.5).attr("y2", 446.5)
    .attr("stroke", "#8a8a8a").attr("stroke-width", 2);
  const x = d3.scaleLinear().domain([-0.2865, 5.956]).range([560.7, 1258]);
  const y = d3.scaleLinear().domain([0.99142, 1.00209]).range([658.3, 454.3]);
  const g = svg.append("g");
  const line = d3.line().x(d => x(d[0])).y(d => y(d[1]));
  const pl = g.append("g").attr("clip-path", clip("clip-nirspec", x, y));
  pl.selectAll(".r").data(nirspecRaw.concat(nirspecRawB)).join("circle")
    .attr("cx", d => x(d[0])).attr("cy", d => y(d[1])).attr("r", 1.2).attr("fill", "#ee6a2a");
  [nirspecFitBefore, nirspecFitAfter].forEach(seg => {
    pl.append("path").attr("d", line(seg)).attr("fill", "none")
      .attr("stroke", "#ff9a1a").attr("stroke-width", 1.5);
  });
  pl.append("path").attr("d", line(nirspecBaseline)).attr("fill", "none")
    .attr("stroke", "#c9c21a").attr("stroke-width", 1.6).attr("stroke-dasharray", "4,3");
  pl.selectAll(".bin").data(d3.zip(nirspecBinTime, nirspecBinFlux)).join("circle")
    .attr("cx", d => x(d[0])).attr("cy", d => y(d[1])).attr("r", 3).attr("fill", "#4d9fe8");
  frameAxes(g, x, y, {
    xTicks: nirspecXTicks, yTicks: nirspecYTicks, xFmt: d3.format("d"), yFmt: d3.format(".3f"),
    tick: 5, padX: 6, padY: 4, tickColor: "#c8c8c8", tickW: 1.5, color: "#ddd", font: mono, size: 12.5,
    spine: "#c0c0c0", spineW: 1.6
  });
  addText(g, "Time [hours]", 910, 695, { font: mono, size: 12.5, color: "#ddd" });
  addText(g, "Relative flux", 507, 556, { font: mono, size: 12.5, color: "#ddd", rotate: true });
  title("NIRSpec", 900, 436, 25);
  squiggle(850, 952, 440);
}
</script>
</body>
</html>
